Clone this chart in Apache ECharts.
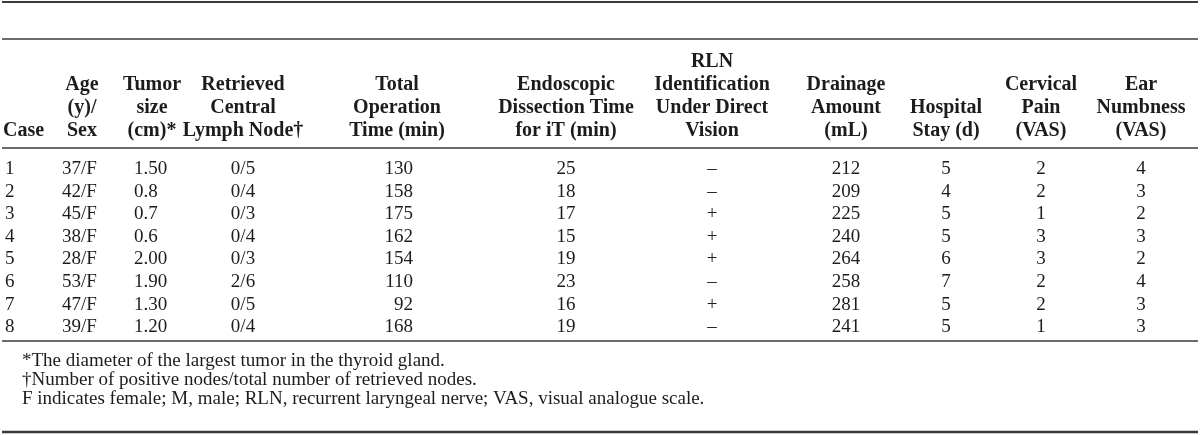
<!DOCTYPE html>
<html>
<head>
<meta charset="utf-8">
<script src="https://cdn.jsdelivr.net/npm/echarts@6/dist/echarts.min.js"></script>
<style>html,body{margin:0;padding:0;background:#fff}#c{width:1200px;height:435px}</style>
</head>
<body>
<div id="c"></div>
<script>
// ---- data ----
const cases = ['1','2','3','4','5','6','7','8'];
const ageSex = ['37/F','42/F','45/F','38/F','28/F','53/F','47/F','39/F'];
const tumorSize = ['1.50','0.8','0.7','0.6','2.00','1.90','1.30','1.20'];
const retrievedNodes = ['0/5','0/4','0/3','0/4','0/3','2/6','0/5','0/4'];
const totalOpTime = [130,158,175,162,154,110,92,168];
const endoTime = [25,18,17,15,19,23,16,19];
const rlnIdent = ['\u2013','\u2013','+','+','+','\u2013','+','\u2013'];
const drainage = [212,209,225,240,264,258,281,241];
const hospitalStay = [5,4,5,5,6,7,5,5];
const cervicalPain = [2,2,1,3,3,2,2,1];
const earNumbness = [4,3,2,3,2,4,3,3];

const headers = [
  ['Case'],
  ['Age','(y)/','Sex'],
  ['Tumor','size','(cm)*'],
  ['Retrieved','Central','Lymph Node\u2020'],
  ['Total','Operation','Time (min)'],
  ['Endoscopic','Dissection Time','for iT (min)'],
  ['RLN','Identification','Under Direct','Vision'],
  ['Drainage','Amount','(mL)'],
  ['Hospital','Stay (d)'],
  ['Cervical','Pain','(VAS)'],
  ['Ear','Numbness','(VAS)']
];
const footnotes = [
  '*The diameter of the largest tumor in the thyroid gland.',
  '\u2020Number of positive nodes/total number of retrieved nodes.',
  'F indicates female; M, male; RLN, recurrent laryngeal nerve; VAS, visual analogue scale.'
];
const columnsData = [cases, ageSex, tumorSize, retrievedNodes, totalOpTime, endoTime, rlnIdent, drainage, hospitalStay, cervicalPain, earNumbness];

// ---- layout (positions / styles) ----
const W = 1200, H = 435;
const colX      = [5, 62, 134, 243, 413, 566, 712, 846, 946, 1041, 1141];
const colAlign  = ['left','left','left','center','right','center','center','center','center','center','center'];
const headX     = [3, 82, 152, 243, 397, 566, 712, 846, 946, 1041, 1141];
const headAlign = ['left','center','center','center','center','center','center','center','center','center','center'];
const rowFirst = 169, rowStep = 22.6;
const headLastY = 131, headStep = 23;
const serif = '"Liberation Serif","DejaVu Serif",serif';
const txtColor = '#1c1c1c';
const lineColor = '#3a3a3a';

const graphics = [];
function hline(y, w) {
  graphics.push({type:'line', shape:{x1:2, y1:y, x2:1198, y2:y}, style:{stroke:lineColor, lineWidth:w}, silent:true});
}
hline(2, 2.2);
hline(39, 1.6);
hline(148, 1.6);
hline(341, 1.6);
hline(432, 2.4);

headers.forEach((lines, ci) => {
  const n = lines.length;
  lines.forEach((t, li) => {
    graphics.push({type:'text', x: headX[ci], y: headLastY - (n-1-li)*headStep,
      style:{text:t, font:'bold 20px ' + serif, fill:txtColor, textAlign: headAlign[ci], textVerticalAlign:'middle'}, silent:true});
  });
});
const footY = [361, 380, 399];
footnotes.forEach((t, i) => {
  graphics.push({type:'text', x: 22, y: footY[i],
    style:{text:t, font:'19px ' + serif, fill:txtColor, textAlign:'left', textVerticalAlign:'middle'}, silent:true});
});

// body cells through a value x axis (pixel-like scale) and a category y axis (cases)
const bodyTop = rowFirst - rowStep/2;
const series = columnsData.map((vals, ci) => ({
  type: 'custom',
  coordinateSystem: 'cartesian2d',
  data: vals.map((v, ri) => [colX[ci], ri, String(v)]),
  renderItem: function (params, api) {
    const p = api.coord([api.value(0), api.value(1)]);
    return {type:'text', x: p[0], y: p[1],
      style:{text: columnsData[ci][params.dataIndex] + '', font:'19px ' + serif, fill: txtColor,
        textAlign: colAlign[ci], textVerticalAlign:'middle'}};
  },
  silent: true,
  animation: false
}));

const chart = echarts.init(document.getElementById('c'), null, {renderer:'canvas'});
chart.setOption({
  backgroundColor: '#fff',
  animation: false,
  grid: {left: 0, top: bodyTop, width: W, height: rowStep * cases.length, containLabel:false},
  xAxis: {type:'value', min:0, max:W, show:false},
  yAxis: {type:'category', data: cases, inverse:true, show:false},
  graphic: graphics,
  series: series
});
</script>
</body>
</html>
